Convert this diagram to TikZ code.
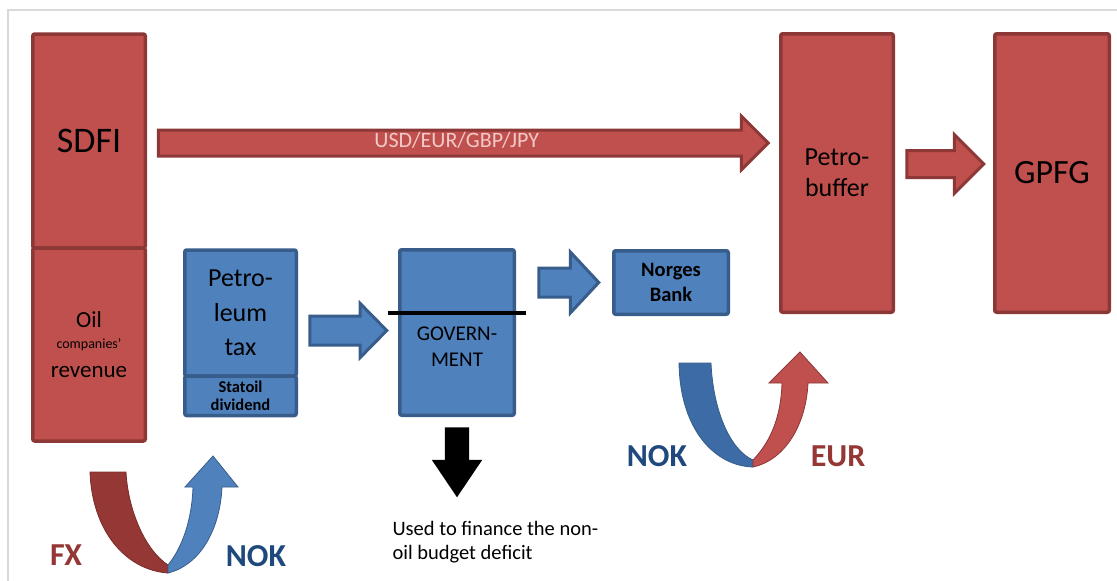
\documentclass[tikz,border=0pt]{standalone}
\usepackage{fontspec}
\setmainfont{Carlito}
\usetikzlibrary{shapes.arrows,positioning,calc}

\definecolor{oilred}{HTML}{C0504D}
\definecolor{oilredline}{HTML}{8C3836}
\definecolor{darkred}{HTML}{953735}
\definecolor{govblue}{HTML}{4F81BD}
\definecolor{govblueline}{HTML}{385D8A}
\definecolor{deepblue}{HTML}{3D6BA6}
\definecolor{nokblue}{HTML}{1F497D}
\definecolor{framegray}{HTML}{D9D9D9}
\definecolor{fxpink}{HTML}{F2C9C7}

\newcommand{\fsize}[2]{\fontsize{#1}{#2}\selectfont}

\begin{document}
\begin{tikzpicture}[x=1pt,y=-1pt,
	redbox/.style={draw=oilredline,fill=oilred,line width=3.5pt,rounded corners=2pt,
		inner sep=0pt,outer sep=0pt,align=center},
	bluebox/.style={draw=govblueline,fill=govblue,line width=3.5pt,rounded corners=2pt,
		inner sep=0pt,outer sep=0pt,align=center},
	flow/.style={single arrow,line width=3pt,single arrow head indent=0pt,
		inner xsep=0pt,outer sep=0pt},
	redflow/.style={flow,draw=oilredline,fill=oilred},
	blueflow/.style={flow,draw=govblueline,fill=govblue},
	money/.style={font=\bfseries\fsize{32}{38}}]
	\useasboundingbox (0,0) rectangle (1117,581);
	\draw[framegray,line width=1.5pt] (8,581) -- (8,10) -- (1117,10);

	% Oil side
	\node[redbox,minimum width=112.5pt,minimum height=214pt,font=\fsize{36}{42}]
		(sdfi) at (89,141) {SDFI};
	\node[redbox,minimum width=112.5pt,minimum height=193pt,below=0pt of sdfi,
		font=\fsize{23}{24}] (oil)
		{Oil\\[-3pt]{\fsize{14}{16}companies’}\\[5pt]revenue};
	\node[redbox,minimum width=112.5pt,minimum height=278.5pt,font=\fsize{26}{31}]
		(buffer) at (837,173) {Petro-\\buffer};
	\node[redbox,minimum width=114.5pt,minimum height=278.5pt,font=\fsize{34}{40}]
		(gpfg) at (1052,173) {GPFG};

	% Government side
	\node[bluebox,minimum width=111.5pt,minimum height=126pt,font=\fsize{26}{34.5}]
		(tax) at (240.5,313) {Petro-\\leum\\tax};
	\node[bluebox,minimum width=111.5pt,minimum height=39.5pt,below=0pt of tax,
		font=\bfseries\fsize{16.5}{18}] (statoil) {Statoil\\dividend};
	\node[bluebox,minimum width=114.5pt,minimum height=165.5pt] (gov) at (457,332.5) {};
	\node[font=\fsize{21}{26},align=center] (govtext) at (457,347) {GOVERN-\\MENT};
	\draw[line width=4pt] ($(gov.north west)+(-12,63)$) -- ($(gov.north east)+(12,63)$);
	\node[bluebox,minimum width=114.5pt,minimum height=63.5pt,
		font=\bfseries\fsize{20.5}{25}] (norges) at (671,282.5) {Norges\\Bank};

	% Flows
	\node[redflow,anchor=tail,minimum height=610pt,text height=14pt,text depth=5pt,
		inner ysep=2pt,single arrow head extend=14pt,single arrow tip angle=90,
		font=\fsize{22}{26},text=fxpink] (currency) at ($(sdfi.east)+(13,2)$)
		{USD/EUR/GBP/JPY};
	\node[redflow,anchor=tip,minimum height=77pt,inner ysep=12pt,
		single arrow head extend=16pt,single arrow tip angle=90]
		(tofund) at ($(gpfg.west)+(-11,-9)$) {};
	\node[blueflow,anchor=tip,minimum height=77pt,inner ysep=13pt,
		single arrow head extend=12.5pt,single arrow tip angle=91]
		(togov) at ($(gov.west)+(-13,-2)$) {};
	\node[blueflow,anchor=tip,minimum height=60pt,inner ysep=13pt,
		single arrow head extend=16pt,single arrow tip angle=94]
		(tobank) at ($(norges.west)+(-15,0)$) {};
	\node[single arrow,fill=black,anchor=tail,minimum height=70pt,inner sep=12pt,
		outer sep=0pt,single arrow head indent=0pt,single arrow head extend=13pt,
		single arrow tip angle=68,shape border rotate=270]
		(spend) at ($(gov.south)+(0,12)$) {};
	\node[font=\fsize{20.5}{24},align=left,anchor=west] (deficit) at (389,542)
		{Used to finance the non-\\oil budget deficit};

	% FX for NOK
	\draw[draw=darkred!80!black,fill=darkred,line width=0.8pt]
		(90,472) -- (126,472) .. controls (128,510) and (145,550) .. (168,565)
		-- (168,573) .. controls (125,570) and (92,530) .. (90,472) -- cycle;
	\draw[draw=govblueline,fill=govblue,line width=0.8pt]
		(168,565) .. controls (182,548) and (192,520) .. (193,487) -- (185,487)
		-- (213,456) -- (238,487) -- (222,487) .. controls (220,530) and (200,565) .. (168,573)
		-- cycle;
	\node[money,text=darkred] (fx) at (66,555) {FX};
	\node[money,text=nokblue] (noka) at (256,556) {NOK};

	% NOK for EUR
	\draw[draw=govblueline,fill=deepblue,line width=0.8pt]
		(679,363) -- (711,363) .. controls (713,410) and (730,450) .. (753,460)
		-- (753,467) .. controls (715,466) and (680,430) .. (679,363) -- cycle;
	\draw[draw=oilredline,fill=oilred,line width=0.8pt]
		(753,460) .. controls (772,440) and (781,415) .. (782,383) -- (769,383)
		-- (800,352) -- (828,383) -- (808,383) .. controls (806,425) and (785,460) .. (753,467)
		-- cycle;
	\node[money,text=nokblue] (nokb) at (657,456) {NOK};
	\node[money,text=darkred] (eur) at (838,456) {EUR};
\end{tikzpicture}
\end{document}
